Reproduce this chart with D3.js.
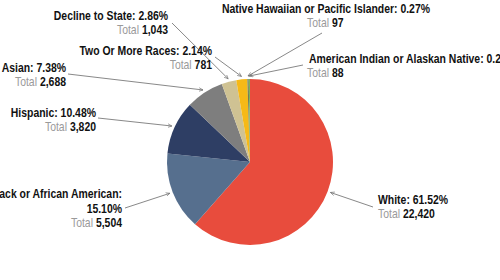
<!DOCTYPE html>
<html>
<head>
<meta charset="utf-8">
<script src="https://cdn.jsdelivr.net/npm/d3@7"></script>
<style>
  html, body { margin: 0; padding: 0; background: #fff; }
  svg { display: block; }
  text { font-family: "Liberation Sans", Arial, sans-serif; font-size: 12px; }
</style>
</head>
<body>
<svg id="chart" width="500" height="280"></svg>
<script>
// ---- data ----
const categories = [
  "White",
  "Black or African American",
  "Hispanic",
  "Asian",
  "Decline to State",
  "Two Or More Races",
  "Native Hawaiian or Pacific Islander",
  "American Indian or Alaskan Native"
];
const totals = [22420, 5504, 3820, 2688, 1043, 781, 97, 88];
const percents = ["61.52%", "15.10%", "10.48%", "7.38%", "2.86%", "2.14%", "0.27%", "0.24%"];
const colors = ["#E84C3D", "#566F8E", "#2E3E64", "#7E7E7E", "#CFC293", "#F6B917", "#6E7E5C", "#7DB35B"];

// ---- layout (label text anchors) ----
const labelLayout = {
  "White":                               { x: 378, y: 204, anchor: "start", lines: 1 },
  "Black or African American":           { x: 122, y: 198, anchor: "end", lines: 2 },
  "Hispanic":                            { x: 96,  y: 117, anchor: "end", lines: 1 },
  "Asian":                               { x: 66,  y: 72,  anchor: "end", lines: 1 },
  "Decline to State":                    { x: 168, y: 20,  anchor: "end", lines: 1 },
  "Two Or More Races":                   { x: 212, y: 55,  anchor: "end", lines: 1 },
  "Native Hawaiian or Pacific Islander": { x: 430, y: 13,  anchor: "end", lines: 1, totalX: 307 },
  "American Indian or Alaskan Native":   { x: 309, y: 63,  anchor: "start", lines: 1, totalX: 307 }
};
const arrowStart = {
  "White": [373, 207],
  "Black or African American": [125, 208],
  "Hispanic": [98, 118],
  "Asian": [68, 74],
  "Decline to State": [172, 23],
  "Two Or More Races": [215, 57],
  "Native Hawaiian or Pacific Islander": [322, 33],
  "American Indian or Alaskan Native": [303, 65]
};

const cx = 250, cy = 162, r = 83;
const squeeze = 0.87;
const svg = d3.select("#chart");

svg.append("defs").append("marker")
  .attr("id", "arrow")
  .attr("viewBox", "0 0 10 10")
  .attr("refX", 9).attr("refY", 5)
  .attr("markerWidth", 5).attr("markerHeight", 5)
  .attr("orient", "auto")
  .append("path")
  .attr("d", "M0,1 L9,5 L0,9")
  .attr("fill", "none")
  .attr("stroke", "#6f6f6f")
  .attr("stroke-width", 1.4);

const data = categories.map((c, i) => ({ name: c, total: totals[i], pct: percents[i], color: colors[i] }));
const pie = d3.pie().value(d => d.total).sort(null);
const arcs = pie(data);
const arc = d3.arc().innerRadius(0).outerRadius(r);
const edge = d3.arc().innerRadius(r + 3).outerRadius(r + 3);

const g = svg.append("g").attr("transform", `translate(${cx},${cy})`);
g.selectAll("path.slice").data(arcs).join("path")
  .attr("class", "slice")
  .attr("d", arc)
  .attr("fill", d => d.data.color);

// arrows
svg.selectAll("line.arrow").data(arcs).join("line")
  .attr("class", "arrow")
  .attr("x1", d => arrowStart[d.data.name][0])
  .attr("y1", d => arrowStart[d.data.name][1])
  .attr("x2", d => cx + edge.centroid(d)[0])
  .attr("y2", d => cy + edge.centroid(d)[1])
  .attr("stroke", "#7a7a7a")
  .attr("stroke-width", 0.9)
  .attr("marker-end", "url(#arrow)");

function addText(x, y, anchor) {
  return svg.append("g")
    .attr("transform", `translate(${x},${y}) scale(${squeeze},1)`)
    .append("text").attr("x", 0).attr("y", 0).attr("text-anchor", anchor);
}

// labels
arcs.forEach(d => {
  const L = labelLayout[d.data.name];
  let y = L.y;
  if (L.lines === 2) {
    addText(L.x, y, L.anchor).attr("font-weight", "bold").attr("fill", "#111").text(d.data.name + ":");
    y += 15;
    addText(L.x, y, L.anchor).attr("font-weight", "bold").attr("fill", "#111").text(d.data.pct);
    y += 14;
  } else {
    addText(L.x, y, L.anchor).attr("font-weight", "bold").attr("fill", "#111").text(d.data.name + ": " + d.data.pct);
    y += 14;
  }
  const tx = L.totalX !== undefined ? L.totalX : L.x;
  const anchor = L.totalX !== undefined ? "start" : L.anchor;
  const tt = addText(tx, y, anchor);
  tt.append("tspan").attr("fill", "#9a9a9a").text("Total ");
  tt.append("tspan").attr("fill", "#111").attr("font-weight", "bold").text(d3.format(",")(d.data.total));
});
</script>
</body>
</html>
